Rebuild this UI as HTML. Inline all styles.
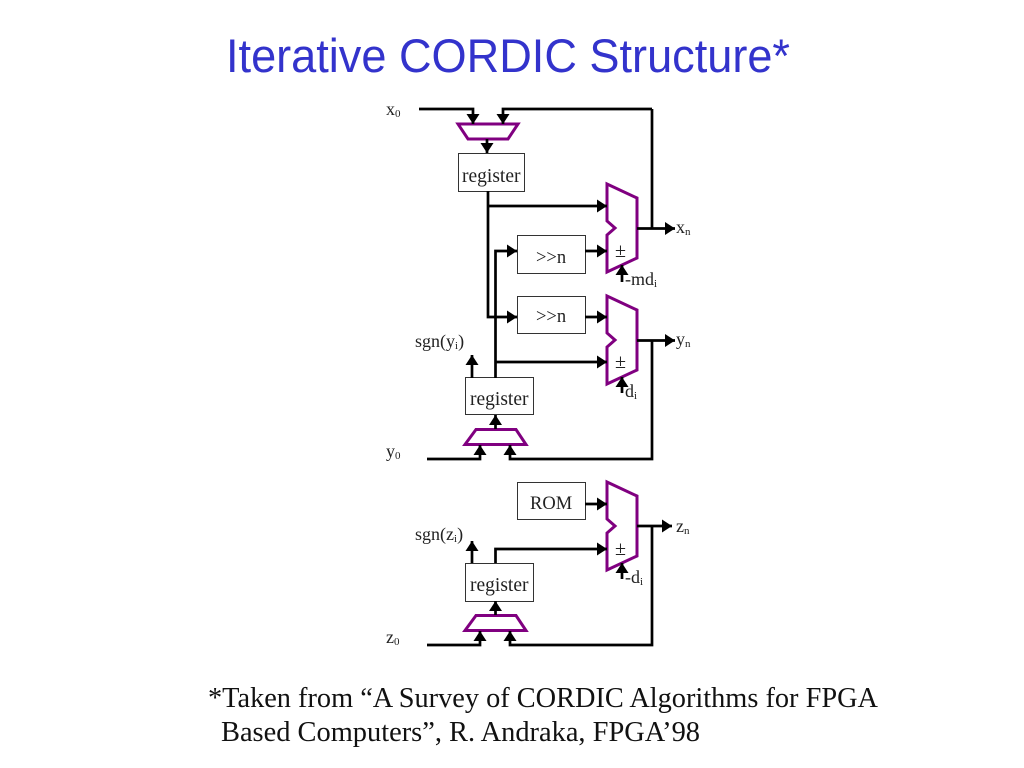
<!DOCTYPE html>
<html><head><meta charset="utf-8"><style>
html,body{margin:0;padding:0;background:#fff;width:1024px;height:768px;overflow:hidden}
svg{display:block;filter:blur(0.35px)}
</style></head><body>
<svg width="1024" height="768" viewBox="0 0 1024 768" xmlns="http://www.w3.org/2000/svg">
<defs>
<marker id="a" markerUnits="userSpaceOnUse" markerWidth="11" markerHeight="13" refX="10" refY="6.500" orient="auto"><path d="M0 0L10 6.500L0 13Z" fill="#000"/></marker>
</defs>
<text x="226" y="72" font-family="Liberation Sans,sans-serif" font-size="47" fill="#3333cc" textLength="564" lengthAdjust="spacingAndGlyphs">Iterative CORDIC Structure*</text>

<g fill="#fff" stroke="#333" stroke-width="1">
<rect x="458.500" y="153.500" width="66" height="38"/>
<rect x="517.500" y="235.500" width="68" height="38"/>
<rect x="517.500" y="296.500" width="68" height="37"/>
<rect x="465.500" y="377.500" width="68" height="37"/>
<rect x="517.500" y="482.500" width="68" height="37"/>
<rect x="465.500" y="563.500" width="68" height="38"/>
</g>

<g fill="none" stroke="#800080" stroke-width="3">
<path d="M458 124H518L508 139H468Z"/>
<path d="M607 184L637 198V258L607 272V235L615 228L607 221Z"/>
<path d="M607 296L637 310V370L607 384V347L615 340L607 333Z"/>
<path d="M607 482L637 496V556L607 570V533L615 526L607 519Z"/>
<path d="M465 444.500L476 429.500H516L526 444.500Z"/>
<path d="M465 630.500L476 615.500H516L526 630.500Z"/>
</g>

<g fill="none" stroke="#000" stroke-width="2.700" marker-end="url(#a)">
<path d="M419 109H473V124"/>
<path d="M652 109H503V124"/>
<path d="M487 139V153"/>
<path d="M488 206H607"/>
<path d="M488 191V317H517"/>
<path d="M495.500 378V251H517"/>
<path d="M585 251H607"/>
<path d="M585 317H607"/>
<path d="M495.500 362H607"/>
<path d="M637 228.500H675"/>
<path d="M637 340.500H675"/>
<path d="M622 282V265"/>
<path d="M622 393V377"/>
<path d="M495.500 429V415"/>
<path d="M472 378V355"/>
<path d="M427 459H480V445"/>
<path d="M652 340V459H510V445"/>
<path d="M585 504H607"/>
<path d="M637 526H672"/>
<path d="M472 563V541"/>
<path d="M495.500 563V549H607"/>
<path d="M495.500 615V601"/>
<path d="M427 645H480V631"/>
<path d="M652 526V645H510V631"/>
<path d="M622 579V563"/>
</g>
<path d="M652 109V229" fill="none" stroke="#000" stroke-width="2.700"/>

<g font-family="Liberation Serif,serif" font-size="19.500" fill="#222">
<text x="462" y="182">register</text>
<text x="470" y="405">register</text>
<text x="470" y="591">register</text>
<text x="536" y="263" font-size="18.500">&gt;&gt;n</text>
<text x="536" y="322" font-size="18.500">&gt;&gt;n</text>
<text x="530" y="509" font-size="18.500">ROM</text>
<text x="615" y="257" font-size="20">±</text>
<text x="615" y="368" font-size="20">±</text>
<text x="615" y="555" font-size="20">±</text>
<text x="386" y="115" font-size="18">x<tspan font-size="11" dy="2">0</tspan></text>
<text x="676" y="233" font-size="18">x<tspan font-size="11" dy="2">n</tspan></text>
<text x="625" y="285" font-size="18">-md<tspan font-size="11" dy="2">i</tspan></text>
<text x="415" y="347" font-size="18">sgn(y<tspan font-size="11" dy="2">i</tspan><tspan dy="-2">)</tspan></text>
<text x="676" y="345" font-size="18">y<tspan font-size="11" dy="2">n</tspan></text>
<text x="625" y="397" font-size="18">d<tspan font-size="11" dy="2">i</tspan></text>
<text x="386" y="457" font-size="18">y<tspan font-size="11" dy="2">0</tspan></text>
<text x="415" y="540" font-size="18">sgn(z<tspan font-size="11" dy="2">i</tspan><tspan dy="-2">)</tspan></text>
<text x="676" y="532" font-size="18">z<tspan font-size="11" dy="2">n</tspan></text>
<text x="625" y="583" font-size="18">-d<tspan font-size="11" dy="2">i</tspan></text>
<text x="386" y="643" font-size="18">z<tspan font-size="11" dy="2">0</tspan></text>
</g>

<g font-family="Liberation Serif,serif" font-size="28" fill="#111">
<text x="208" y="707" textLength="670" lengthAdjust="spacingAndGlyphs">*Taken from “A Survey of CORDIC Algorithms for FPGA</text>
<text x="221" y="741" textLength="479" lengthAdjust="spacingAndGlyphs">Based Computers”, R. Andraka, FPGA’98</text>
</g>
</svg>
</body></html>
